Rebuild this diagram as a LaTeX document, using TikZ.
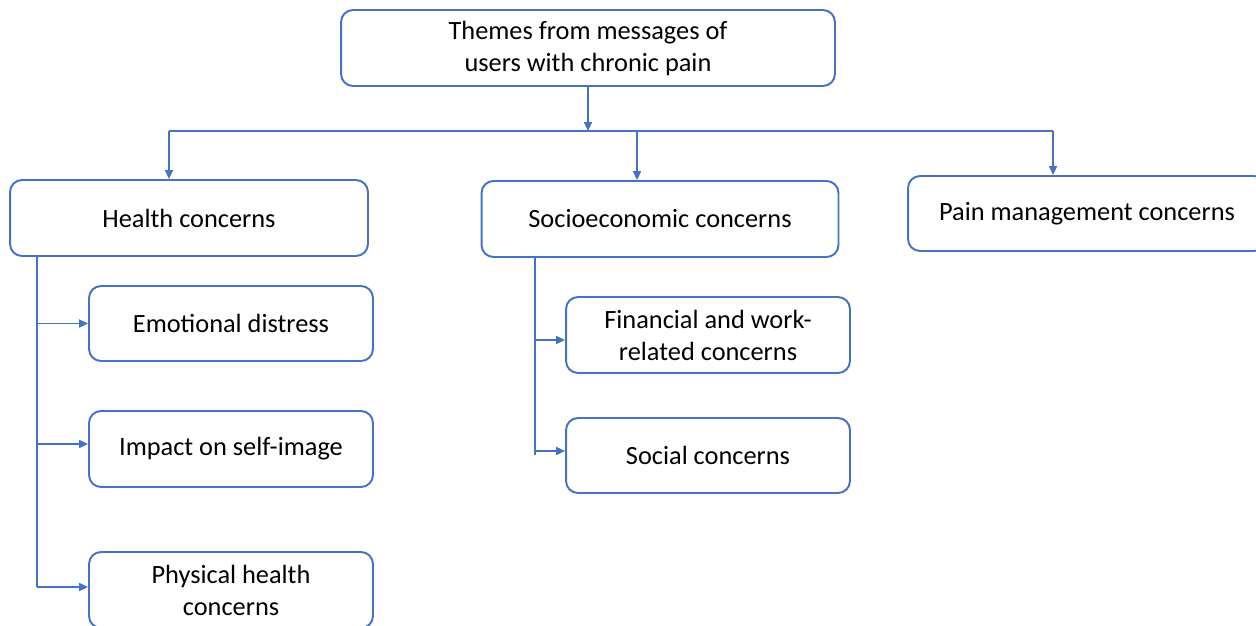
\documentclass[tikz,border=0pt]{standalone}
\usepackage{fontspec}
\setmainfont{Carlito}
\usepackage{xcolor}
\usetikzlibrary{arrows.meta,calc}
\definecolor{boxblue}{HTML}{4472C4}

\begin{document}
\begin{tikzpicture}[x=0.02cm,y=-0.02cm,
  box/.style={draw=boxblue, line width=1.1pt, rounded corners=0.24cm, align=center,
    inner sep=0pt, font=\fontsize{15}{18.2}\selectfont},
  link/.style={draw=boxblue, line width=1.1pt},
  arr/.style={link, -{Triangle[length=0.18cm,width=0.16cm]}}]
\useasboundingbox (0,0) rectangle (1256,625);
% main boxes
\node[box, minimum width=9.88cm, minimum height=1.52cm] (root) at (588,48) {Themes from messages of\\users with chronic pain};
\node[box, minimum width=7.16cm, minimum height=1.52cm] (health) at (189,218) {Health concerns};
\node[box, minimum width=7.14cm, minimum height=1.52cm] (socio) at (660,219) {Socioeconomic concerns};
\node[box, minimum width=7.16cm, minimum height=1.50cm] (pain) at (1087,213.5) {Pain management concerns};
% sub boxes
\node[box, minimum width=5.68cm, minimum height=1.50cm] (emo) at (231,323.5) {Emotional distress};
\node[box, minimum width=5.68cm, minimum height=1.52cm] (self) at (231,449) {Impact on self-image};
\node[box, minimum width=5.68cm, minimum height=1.52cm] (phys) at (231,590) {Physical health\\concerns};
\node[box, minimum width=5.68cm, minimum height=1.52cm] (fin) at (708,335) {Financial and work-\\related concerns};
\node[box, minimum width=5.68cm, minimum height=1.50cm] (soc) at (708,455.5) {Social concerns};
% top tree
\coordinate (bus) at (588,131);
\coordinate (busl) at (169,131);
\coordinate (busm) at (637,131);
\coordinate (busr) at (1053,131);
\draw[arr] (root) -- (bus);
\draw[link] (busl) -- (busr);
\draw[arr] (busl) -- (busl |- health.north);
\draw[arr] (busm) -- (busm |- socio.north);
\draw[arr] (busr) -- (busr |- pain.north);
% left branch
\coordinate (hv) at (37,0);
\draw[link] (hv |- health.south) -- (hv |- 0,587);
\draw[arr] (hv |- emo.west) -- (emo.west);
\draw[arr] (hv |- 0,444) -- (self.west |- 0,444);
\draw[arr] (hv |- 0,587) -- (phys.west |- 0,587);
% middle branch
\coordinate (sv) at (535,0);
\draw[link] (sv |- socio.south) -- (sv |- 0,455);
\draw[arr] (sv |- 0,340) -- (fin.west |- 0,340);
\draw[arr] (sv |- 0,451) -- (soc.west |- 0,451);
\end{tikzpicture}
\end{document}
